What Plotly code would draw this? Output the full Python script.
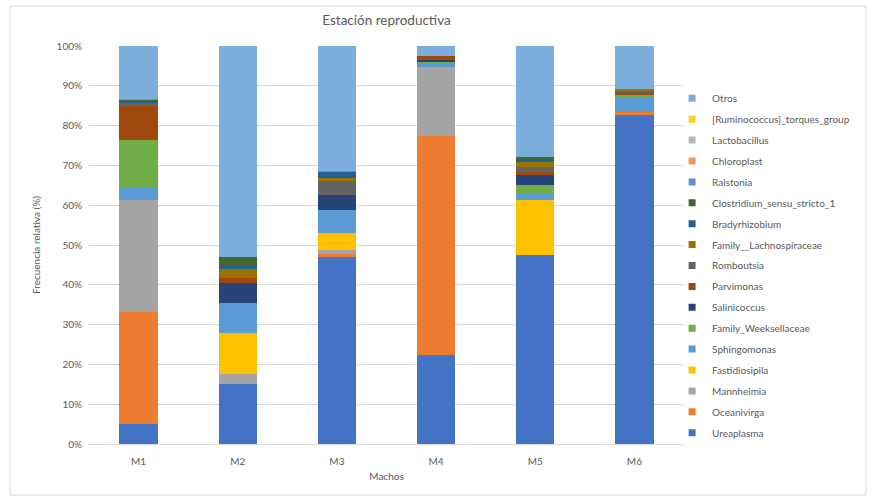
import plotly.graph_objects as go

machos = ["M1", "M2", "M3", "M4", "M5", "M6"]

ureaplasma = [5.0, 15.1, 47.2, 22.4, 47.5, 82.9]
oceanivirga = [28.2, 0.0, 0.5, 55.1, 0.0, 0.4]
mannheimia = [28.1, 2.5, 1.0, 17.3, 0.0, 0.0]
fastidiosipila = [0.0, 10.2, 4.2, 0.0, 13.8, 0.0]
sphingomonas = [3.0, 7.6, 5.9, 0.6, 1.8, 3.8]
weeksellaceae = [12.1, 0.0, 0.0, 0.7, 2.1, 0.6]
salinicoccus = [0.0, 5.0, 3.8, 0.4, 2.4, 0.0]
parvimonas = [8.5, 1.2, 0.0, 1.0, 0.8, 0.6]
romboutsia = [1.0, 0.0, 3.5, 0.0, 1.1, 0.6]
lachnospiraceae = [0.0, 2.3, 0.7, 0.0, 1.4, 0.2]
bradyrhizobium = [0.3, 1.0, 1.6, 0.0, 0.6, 0.0]
clostridium = [0.3, 2.2, 0.0, 0.0, 0.5, 0.0]
ralstonia = [0.2, 0.0, 0.3, 0.0, 0.0, 0.0]
chloroplast = [0.0, 0.0, 0.0, 0.0, 0.0, 0.0]
lactobacillus = [0.0, 0.0, 0.0, 0.0, 0.0, 0.0]
ruminococcus = [0.0, 0.0, 0.0, 0.0, 0.0, 0.0]
otros = [13.3, 52.9, 31.3, 2.5, 28.0, 10.9]

series = [
    ("Ureaplasma", ureaplasma, "#4472C4"),
    ("Oceanivirga", oceanivirga, "#ED7D31"),
    ("Mannheimia", mannheimia, "#A5A5A5"),
    ("Fastidiosipila", fastidiosipila, "#FFC000"),
    ("Sphingomonas", sphingomonas, "#5B9BD5"),
    ("Family_Weeksellaceae", weeksellaceae, "#70AD47"),
    ("Salinicoccus", salinicoccus, "#264478"),
    ("Parvimonas", parvimonas, "#9E480E"),
    ("Romboutsia", romboutsia, "#636363"),
    ("Family__Lachnospiraceae", lachnospiraceae, "#997300"),
    ("Bradyrhizobium", bradyrhizobium, "#255E91"),
    ("Clostridium_sensu_stricto_1", clostridium, "#43682B"),
    ("Ralstonia", ralstonia, "#698ED0"),
    ("Chloroplast", chloroplast, "#F1975A"),
    ("Lactobacillus", lactobacillus, "#B7B7B7"),
    ("[Ruminococcus]_torques_group", ruminococcus, "#FFCD33"),
    ("Otros", otros, "#7CAFDD"),
]

FONT = "Lato, Carlito, Calibri, sans-serif"
GRAY = "#595959"

fig = go.Figure()
for name, vals, col in series:
    fig.add_trace(go.Bar(
        x=machos, y=vals, name=name, legendgroup=name, showlegend=False,
        marker=dict(color=col, line=dict(width=0)),
    ))

# legend entries with small square swatches (Otros on top)
for i, (name, vals, col) in enumerate(series):
    fig.add_trace(go.Scatter(
        x=[None], y=[None], mode="markers", name=name, legendgroup=name,
        legendrank=1000 - i,
        marker=dict(symbol="square", size=7, color=col),
        hoverinfo="skip",
    ))

fig.update_layout(
    barmode="stack",
    bargap=0.615,
    width=875, height=500,
    margin=dict(l=89, r=191, t=46, b=56),
    paper_bgcolor="white", plot_bgcolor="white",
    font=dict(family=FONT, size=10, color=GRAY),
    title=dict(text="Estación reproductiva", x=(89 + 684) / 2 / 875, xanchor="center",
               y=1 - 20 / 500, yanchor="middle",
               font=dict(family=FONT, size=13.5, color=GRAY)),
    legend=dict(
        x=0.98, xanchor="left", y=0.905, yanchor="top",
        traceorder="grouped", tracegroupgap=1.9,
        font=dict(family=FONT, size=10, color=GRAY),
        itemwidth=30, bgcolor="rgba(0,0,0,0)",
    ),
    xaxis=dict(
        title=dict(text="Machos", font=dict(family=FONT, size=10, color=GRAY), standoff=6),
        showline=True, linecolor="#D9D9D9", linewidth=1,
        ticks="outside", ticklen=8, tickcolor="rgba(0,0,0,0)",
        tickfont=dict(size=10, color=GRAY),
    ),
    yaxis=dict(
        title=dict(text="Frecuencia relativa (%)", font=dict(family=FONT, size=10, color=GRAY), standoff=14),
        range=[0, 100], dtick=10, ticksuffix="%",
        showgrid=True, gridcolor="#D9D9D9", gridwidth=1,
        zeroline=False, ticks="outside", ticklen=4, tickcolor="rgba(0,0,0,0)",
        tickfont=dict(size=10, color=GRAY),
    ),
    shapes=[dict(
        type="rect", xref="paper", yref="paper",
        x0=(10 - 89) / 595, x1=(866 - 89) / 595,
        y0=(444 - 495) / 398, y1=(444 - 6) / 398,
        line=dict(color="#D9D9D9", width=1), fillcolor="rgba(0,0,0,0)", layer="below",
    )],
)

fig.write_html("out.html")
